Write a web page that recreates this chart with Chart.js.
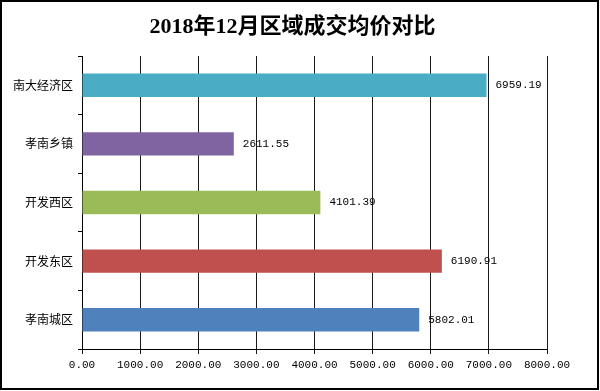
<!DOCTYPE html>
<html>
<head>
<meta charset="utf-8">
<script src="https://cdn.jsdelivr.net/npm/chart.js@4/dist/chart.umd.min.js"></script>
<style>
  html, body { margin: 0; padding: 0; background: #fff; }
  canvas { display: block; }
</style>
</head>
<body>
<canvas id="c" width="600" height="391"></canvas>
<script>
const chartTitle = '2018年12月区域成交均价对比';
const categories = ['南大经济区', '孝南乡镇', '开发西区', '开发东区', '孝南城区'];
const values = [6959.19, 2611.55, 4101.39, 6190.91, 5802.01];
const barColors = ['#4BACC6', '#8064A2', '#9BBB59', '#C0504D', '#4F81BD'];
const xMin = 0, xMax = 8000, xStep = 1000;

const titleAndFrame = {
  id: 'titleAndFrame',
  beforeDraw(chart) {
    const ctx = chart.ctx;
    ctx.save();
    ctx.fillStyle = '#fff';
    ctx.fillRect(0, 0, chart.width, chart.height);
    ctx.restore();
  },
  afterDraw(chart) {
    const ctx = chart.ctx;
    ctx.save();
    ctx.strokeStyle = '#000';
    ctx.lineWidth = 2;
    ctx.strokeRect(1, 1, chart.width - 3, chart.height - 3);
    ctx.fillStyle = '#000';
    ctx.font = "bold 22px 'Liberation Serif', 'Noto Sans CJK SC', serif";
    ctx.textAlign = 'center';
    ctx.textBaseline = 'middle';
    ctx.fillText(chartTitle, 292.5, 27);
    ctx.restore();
  }
};

const valueLabels = {
  id: 'valueLabels',
  afterDatasetsDraw(chart) {
    const ctx = chart.ctx;
    const meta = chart.getDatasetMeta(0);
    ctx.save();
    ctx.fillStyle = '#000';
    ctx.font = "11px 'Liberation Mono', monospace";
    ctx.textAlign = 'left';
    ctx.textBaseline = 'middle';
    meta.data.forEach((bar, i) => {
      ctx.fillText(values[i].toFixed(2), bar.x + 9, bar.y);
    });
    ctx.restore();
  }
};

new Chart(document.getElementById('c'), {
  type: 'bar',
  data: {
    labels: categories,
    datasets: [{
      data: values,
      backgroundColor: barColors,
      borderWidth: 0,
      categoryPercentage: 1,
      barPercentage: 0.4
    }]
  },
  options: {
    indexAxis: 'y',
    responsive: false,
    animation: false,
    devicePixelRatio: 1,
    layout: { padding: { left: 0, right: 53, top: 56, bottom: 0 } },
    plugins: {
      legend: { display: false },
      title: { display: false },
      tooltip: { enabled: false }
    },
    scales: {
      x: {
        min: xMin,
        max: xMax,
        afterFit(scale) { scale.height = 42; },
        grid: {
          color: '#1a1a1a',
          lineWidth: 1,
          tickLength: 5,
          drawOnChartArea: true
        },
        border: { display: true, color: '#000', width: 1 },
        ticks: {
          stepSize: xStep,
          padding: 4,
          color: '#000',
          font: { family: "'Liberation Mono', monospace", size: 11 },
          callback: (v) => Number(v).toFixed(2)
        }
      },
      y: {
        afterFit(scale) { scale.width = 82; },
        grid: {
          offset: true,
          drawOnChartArea: false,
          color: '#000',
          tickLength: 4
        },
        border: { display: true, color: '#000', width: 1 },
        ticks: {
          padding: 5,
          color: '#000',
          font: { family: "'Noto Sans CJK SC', sans-serif", size: 12 }
        }
      }
    }
  },
  plugins: [titleAndFrame, valueLabels]
});
</script>
</body>
</html>
